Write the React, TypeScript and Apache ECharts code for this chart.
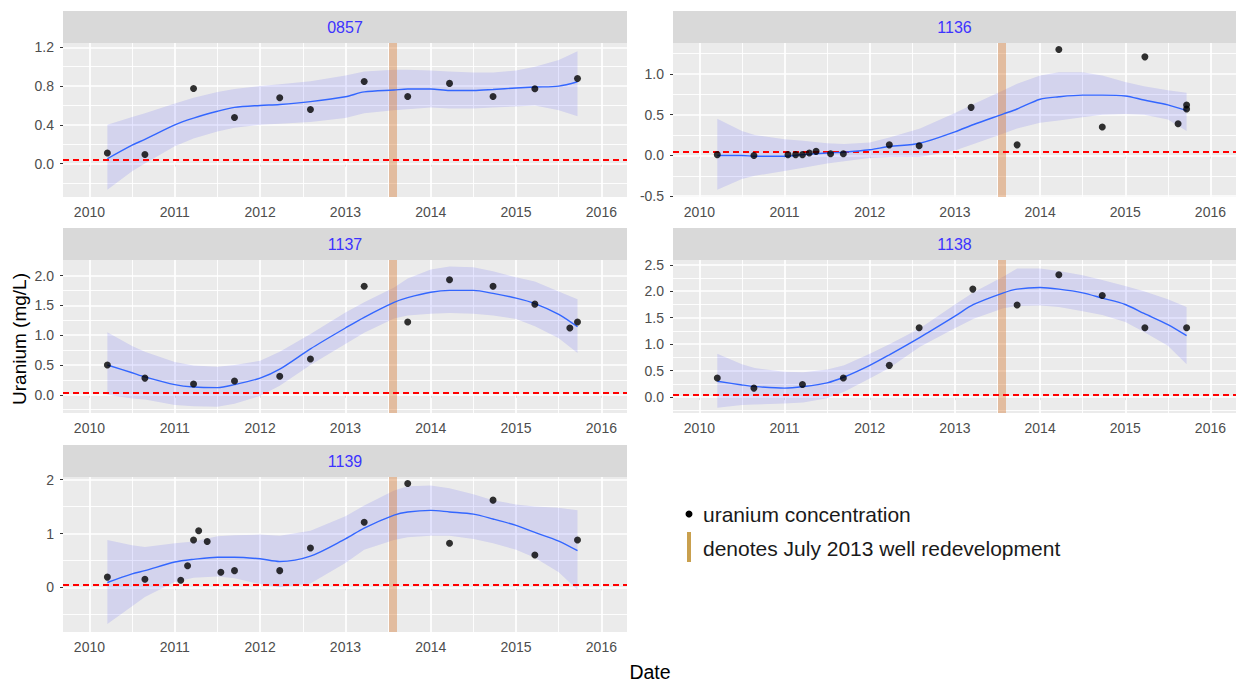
import React, { useEffect, useRef } from "react";
import * as echarts from "echarts";

// ---------------- data ----------------
const PANELS = ["0857", "1136", "1137", "1138", "1139"];
const X_TICKS = [2010, 2011, 2012, 2013, 2014, 2015, 2016];
const X_MINOR = [2010.5, 2011.5, 2012.5, 2013.5, 2014.5, 2015.5];
const REDEVELOPMENT = 2013.55;
const STANDARD = 0.044;

const FIT_X = [2010.21, 2010.5, 2010.65, 2011.0, 2011.22, 2011.5, 2011.7, 2012.0, 2012.23, 2012.59, 2013.0,
  2013.22, 2013.57, 2013.73, 2014.0, 2014.22, 2014.5, 2014.73, 2015.0, 2015.22, 2015.5, 2015.72];

// 0857
const U0857_X = [2010.21, 2010.65, 2011.22, 2011.7, 2012.23, 2012.59, 2013.22, 2013.73, 2014.22, 2014.73, 2015.22, 2015.72];
const U0857_Y = [0.11, 0.093, 0.776, 0.476, 0.679, 0.559, 0.848, 0.693, 0.828, 0.693, 0.772, 0.879];
const FIT_0857 = [0.05, 0.19, 0.25, 0.40, 0.47, 0.54, 0.58, 0.60, 0.61, 0.64, 0.69, 0.74, 0.76, 0.77, 0.77, 0.755, 0.755, 0.765, 0.78, 0.79, 0.80, 0.845];
const HI_0857 = [0.40, 0.48, 0.52, 0.62, 0.68, 0.74, 0.77, 0.80, 0.82, 0.85, 0.91, 0.95, 0.97, 0.97, 0.96, 0.95, 0.94, 0.94, 0.96, 1.0, 1.07, 1.16];
const LO_0857 = [-0.27, -0.08, 0.0, 0.18, 0.26, 0.33, 0.37, 0.40, 0.41, 0.43, 0.47, 0.52, 0.55, 0.56, 0.58, 0.57, 0.57, 0.58, 0.59, 0.60, 0.55, 0.49];

// 1136
const U1136_X = [2010.21, 2010.64, 2011.04, 2011.13, 2011.21, 2011.29, 2011.37, 2011.54, 2011.69, 2012.23, 2012.58, 2013.19,
  2013.73, 2014.22, 2014.73, 2015.23, 2015.62, 2015.72, 2015.72];
const U1136_Y = [0.01, 0.0, 0.01, 0.01, 0.01, 0.03, 0.05, 0.02, 0.02, 0.13, 0.12, 0.59, 0.13, 1.30, 0.35, 1.21, 0.39, 0.62, 0.57];
const FIT_1136 = [0.0, 0.0, -0.01, -0.01, 0.01, 0.03, 0.04, 0.07, 0.11, 0.15, 0.29, 0.38, 0.51, 0.57, 0.69, 0.72, 0.74, 0.74, 0.73, 0.68, 0.62, 0.55];
const HI_1136 = [0.45, 0.30, 0.25, 0.20, 0.18, 0.15, 0.14, 0.16, 0.22, 0.33, 0.52, 0.63, 0.80, 0.88, 0.98, 1.02, 1.02, 0.98, 0.90, 0.85, 0.80, 0.77];
const LO_1136 = [-0.42, -0.29, -0.25, -0.19, -0.15, -0.10, -0.07, -0.03, -0.02, -0.02, 0.06, 0.14, 0.27, 0.33, 0.40, 0.43, 0.47, 0.50, 0.51, 0.50, 0.44, 0.30];

// 1137
const U1137_X = [2010.21, 2010.65, 2011.22, 2011.7, 2012.23, 2012.59, 2013.22, 2013.73, 2014.22, 2014.73, 2015.22, 2015.63, 2015.72];
const U1137_Y = [0.50, 0.28, 0.18, 0.23, 0.31, 0.60, 1.82, 1.22, 1.93, 1.82, 1.52, 1.12, 1.22];
const FIT_1137 = [0.50, 0.37, 0.30, 0.17, 0.13, 0.12, 0.17, 0.28, 0.43, 0.77, 1.12, 1.30, 1.55, 1.63, 1.72, 1.75, 1.75, 1.70, 1.62, 1.53, 1.35, 1.14];
const HI_1137 = [1.05, 0.82, 0.72, 0.55, 0.49, 0.47, 0.50, 0.57, 0.72, 1.02, 1.38, 1.55, 1.80, 1.95, 2.10, 2.15, 2.14, 2.07, 1.97, 1.90, 1.73, 1.60];
const LO_1137 = [0.0, -0.06, -0.08, -0.17, -0.19, -0.20, -0.15, -0.02, 0.15, 0.50, 0.85, 1.04, 1.28, 1.33, 1.36, 1.37, 1.36, 1.33, 1.27, 1.15, 0.95, 0.70];

// 1138
const U1138_X = [2010.21, 2010.64, 2011.21, 2011.69, 2012.23, 2012.58, 2013.21, 2013.73, 2014.22, 2014.73, 2015.23, 2015.72];
const U1138_Y = [0.36, 0.17, 0.24, 0.36, 0.60, 1.31, 2.04, 1.74, 2.31, 1.92, 1.31, 1.31];
const FIT_1138 = [0.30, 0.23, 0.20, 0.17, 0.20, 0.27, 0.38, 0.60, 0.80, 1.13, 1.53, 1.75, 1.97, 2.04, 2.07, 2.04, 1.97, 1.87, 1.75, 1.58, 1.37, 1.16];
const HI_1138 = [0.82, 0.62, 0.55, 0.48, 0.47, 0.52, 0.60, 0.82, 1.0, 1.30, 1.75, 1.98, 2.28, 2.43, 2.43, 2.38, 2.30, 2.21, 2.10, 2.0, 1.85, 1.70];
const LO_1138 = [-0.20, -0.15, -0.14, -0.12, -0.10, -0.02, 0.10, 0.35, 0.55, 0.95, 1.30, 1.48, 1.68, 1.72, 1.73, 1.70, 1.62, 1.55, 1.42, 1.23, 0.97, 0.62];

// 1139
const U1139_X = [2010.21, 2010.65, 2011.07, 2011.15, 2011.22, 2011.28, 2011.38, 2011.54, 2011.7, 2012.23, 2012.59, 2013.22,
  2013.73, 2014.22, 2014.73, 2015.22, 2015.72];
const U1139_Y = [0.19, 0.15, 0.13, 0.40, 0.88, 1.05, 0.85, 0.28, 0.31, 0.31, 0.73, 1.21, 1.93, 0.82, 1.62, 0.60, 0.88];
const FIT_1139 = [0.09, 0.25, 0.31, 0.47, 0.52, 0.56, 0.56, 0.53, 0.48, 0.58, 0.90, 1.10, 1.34, 1.40, 1.43, 1.40, 1.36, 1.27, 1.15, 1.02, 0.86, 0.68];
const HI_1139 = [0.88, 0.78, 0.75, 0.82, 0.85, 0.95, 0.97, 0.98, 0.96, 1.05, 1.32, 1.52, 1.80, 1.88, 1.89, 1.84, 1.73, 1.62, 1.54, 1.50, 1.48, 1.43];
const LO_1139 = [-0.68, -0.35, -0.18, 0.10, 0.18, 0.20, 0.17, 0.06, 0.0, 0.07, 0.45, 0.70, 0.88, 0.93, 0.96, 0.96, 0.90, 0.82, 0.70, 0.55, 0.28, -0.05];

// y-axis breaks per panel
const Y_TICKS_0857 = [0, 0.4, 0.8, 1.2];
const Y_MINOR_0857 = [-0.2, 0.2, 0.6, 1.0];
const Y_TICKS_1136 = [-0.5, 0, 0.5, 1.0];
const Y_MINOR_1136 = [-0.25, 0.25, 0.75, 1.25];
const Y_TICKS_1137 = [0, 0.5, 1.0, 1.5, 2.0];
const Y_MINOR_1137 = [-0.25, 0.25, 0.75, 1.25, 1.75];
const Y_TICKS_1138 = [0, 0.5, 1.0, 1.5, 2.0, 2.5];
const Y_MINOR_1138 = [-0.25, 0.25, 0.75, 1.25, 1.75, 2.25];
const Y_TICKS_1139 = [0, 1, 2];
const Y_MINOR_1139 = [-0.5, 0.5, 1.5];

const LEGEND_POINTS = "uranium concentration";
const LEGEND_BAND = "denotes July 2013 well redevelopment";
const X_TITLE = "Date";
const Y_TITLE = "Uranium (mg/L)";

// ---------------- layout ----------------
const FONT = "'Liberation Sans', Arial, Helvetica, sans-serif";
const X_RANGE = [2009.69, 2016.3];
const LAYOUT = [
  { left: 63, top: 43, width: 564, height: 154, ymin: -0.345, ymax: 1.245, dec: 1 },
  { left: 673, top: 43, width: 563, height: 154, ymin: -0.51, ymax: 1.38, dec: 1 },
  { left: 63, top: 260, width: 564, height: 153, ymin: -0.305, ymax: 2.26, dec: 1 },
  { left: 673, top: 260, width: 563, height: 153, ymin: -0.30, ymax: 2.59, dec: 1 },
  { left: 63, top: 477, width: 564, height: 155, ymin: -0.83, ymax: 2.05, dec: 0 },
];

const PANEL_DATA = [
  { px: U0857_X, py: U0857_Y, fit: FIT_0857, hi: HI_0857, lo: LO_0857, yt: Y_TICKS_0857, ym: Y_MINOR_0857 },
  { px: U1136_X, py: U1136_Y, fit: FIT_1136, hi: HI_1136, lo: LO_1136, yt: Y_TICKS_1136, ym: Y_MINOR_1136 },
  { px: U1137_X, py: U1137_Y, fit: FIT_1137, hi: HI_1137, lo: LO_1137, yt: Y_TICKS_1137, ym: Y_MINOR_1137 },
  { px: U1138_X, py: U1138_Y, fit: FIT_1138, hi: HI_1138, lo: LO_1138, yt: Y_TICKS_1138, ym: Y_MINOR_1138 },
  { px: U1139_X, py: U1139_Y, fit: FIT_1139, hi: HI_1139, lo: LO_1139, yt: Y_TICKS_1139, ym: Y_MINOR_1139 },
];

function buildOption() {
  const grid: any[] = [];
  const xAxis: any[] = [];
  const yAxis: any[] = [];
  const series: any[] = [];
  const graphic: any[] = [];

  LAYOUT.forEach((L, i) => {
    const D = PANEL_DATA[i];
    grid.push({
      left: L.left, top: L.top, width: L.width, height: L.height,
      show: true, backgroundColor: "#EBEBEB", borderWidth: 0, containLabel: false,
    });
    xAxis.push({
      type: "value", gridIndex: i, min: X_RANGE[0], max: X_RANGE[1],
      axisLine: { show: false },
      splitLine: { show: false },
      axisTick: { show: true, customValues: X_TICKS, length: 3, lineStyle: { color: "#333333", width: 1 } },
      axisLabel: {
        show: true, customValues: X_TICKS, margin: 8, color: "#4D4D4D", fontSize: 14, fontFamily: FONT,
        formatter: (v: number) => String(Math.round(v)),
      },
    });
    yAxis.push({
      type: "value", gridIndex: i, min: L.ymin, max: L.ymax,
      axisLine: { show: false },
      splitLine: { show: false },
      axisTick: { show: true, customValues: D.yt, length: 3, lineStyle: { color: "#333333", width: 1 } },
      axisLabel: {
        show: true, customValues: D.yt, margin: 9, color: "#4D4D4D", fontSize: 14, fontFamily: FONT,
        formatter: (v: number) => v.toFixed(L.dec),
      },
    });

    // grid lines
    const gl: any[] = [];
    X_MINOR.forEach((x) => gl.push({ xAxis: x, lineStyle: { width: 0.9 } }));
    D.ym.forEach((y) => gl.push({ yAxis: y, lineStyle: { width: 0.9 } }));
    X_TICKS.forEach((x) => gl.push({ xAxis: x, lineStyle: { width: 1.7 } }));
    D.yt.forEach((y) => gl.push({ yAxis: y, lineStyle: { width: 1.7 } }));
    series.push({
      type: "line", xAxisIndex: i, yAxisIndex: i, data: [], silent: true, z: 1,
      markLine: {
        z: 1, silent: true, symbol: ["none", "none"], label: { show: false },
        lineStyle: { type: "solid", color: "#FFFFFF" }, animation: false,
        data: gl,
      },
    });

    // ribbon
    series.push({
      type: "custom", xAxisIndex: i, yAxisIndex: i, z: 2, silent: true,
      data: [[FIT_X[0], D.lo[0]]],
      renderItem: (_p: any, api: any) => {
        const pts: number[][] = [];
        for (let k = 0; k < FIT_X.length; k++) pts.push(api.coord([FIT_X[k], D.hi[k]]));
        for (let k = FIT_X.length - 1; k >= 0; k--) pts.push(api.coord([FIT_X[k], D.lo[k]]));
        return { type: "polygon", shape: { points: pts }, style: { fill: "rgba(0,0,255,0.1)" } };
      },
    });

    // fit line
    series.push({
      type: "line", xAxisIndex: i, yAxisIndex: i, z: 4, silent: true,
      data: FIT_X.map((x, k) => [x, D.fit[k]]),
      showSymbol: false, smooth: 0.3,
      lineStyle: { color: "#3366FF", width: 1.4 },
    });

    // reference lines
    series.push({
      type: "line", xAxisIndex: i, yAxisIndex: i, data: [], silent: true, z: 3,
      markLine: {
        z: 3, silent: true, symbol: ["none", "none"], label: { show: false }, animation: false,
        data: [
          { xAxis: REDEVELOPMENT, lineStyle: { type: "solid", color: "rgba(215,125,55,0.42)", width: 8 } },
          { yAxis: STANDARD, lineStyle: { type: [6, 4], color: "#FF0000", width: 1.8 } },
        ],
      },
    });

    // points
    series.push({
      type: "scatter", xAxisIndex: i, yAxisIndex: i, z: 5, silent: true,
      data: D.px.map((x, k) => [x, D.py[k]]),
      symbol: "circle", symbolSize: 7,
      itemStyle: { color: "#000000" },
    });

    // strip
    graphic.push({
      type: "rect", silent: true, z: 10,
      shape: { x: L.left, y: L.top - 32, width: L.width, height: 32 },
      style: { fill: "#D9D9D9" },
    });
    graphic.push({
      type: "text", silent: true, z: 11,
      x: L.left + L.width / 2, y: L.top - 16,
      style: {
        text: PANELS[i], fill: "#3D33FF", fontSize: 16, fontFamily: FONT,
        textAlign: "center", textVerticalAlign: "middle",
      },
    });
  });

  // legend
  graphic.push({ type: "circle", silent: true, shape: { cx: 689, cy: 514, r: 3.5 }, style: { fill: "#000" } });
  graphic.push({
    type: "text", silent: true, x: 703, y: 514,
    style: { text: LEGEND_POINTS, fill: "#1A1A1A", fontSize: 21, fontFamily: FONT, textAlign: "left", textVerticalAlign: "middle" },
  });
  graphic.push({ type: "rect", silent: true, shape: { x: 687, y: 532, width: 4, height: 30 }, style: { fill: "#C9A04E" } });
  graphic.push({
    type: "text", silent: true, x: 703, y: 548,
    style: { text: LEGEND_BAND, fill: "#1A1A1A", fontSize: 21, fontFamily: FONT, textAlign: "left", textVerticalAlign: "middle" },
  });

  // axis titles
  graphic.push({
    type: "text", silent: true, x: 650, y: 672,
    style: { text: X_TITLE, fill: "#000", fontSize: 19.5, fontFamily: FONT, textAlign: "center", textVerticalAlign: "middle" },
  });
  graphic.push({
    type: "text", silent: true, x: 19, y: 339, rotation: Math.PI / 2,
    style: { text: Y_TITLE, fill: "#000", fontSize: 19, fontFamily: FONT, textAlign: "center", textVerticalAlign: "middle" },
  });

  return {
    animation: false,
    backgroundColor: "#FFFFFF",
    textStyle: { fontFamily: FONT },
    grid, xAxis, yAxis, series, graphic,
  };
}

export default function App() {
  const ref = useRef<HTMLDivElement>(null);
  useEffect(() => {
    if (!ref.current) return;
    const chart = echarts.init(ref.current, undefined, { renderer: "svg" });
    chart.setOption(buildOption() as any);
    return () => chart.dispose();
  }, []);
  return (
    <div
      ref={ref}
      style={{ position: "absolute", left: 0, top: 0, width: 1236, height: 684, background: "#fff" }}
    />
  );
}
